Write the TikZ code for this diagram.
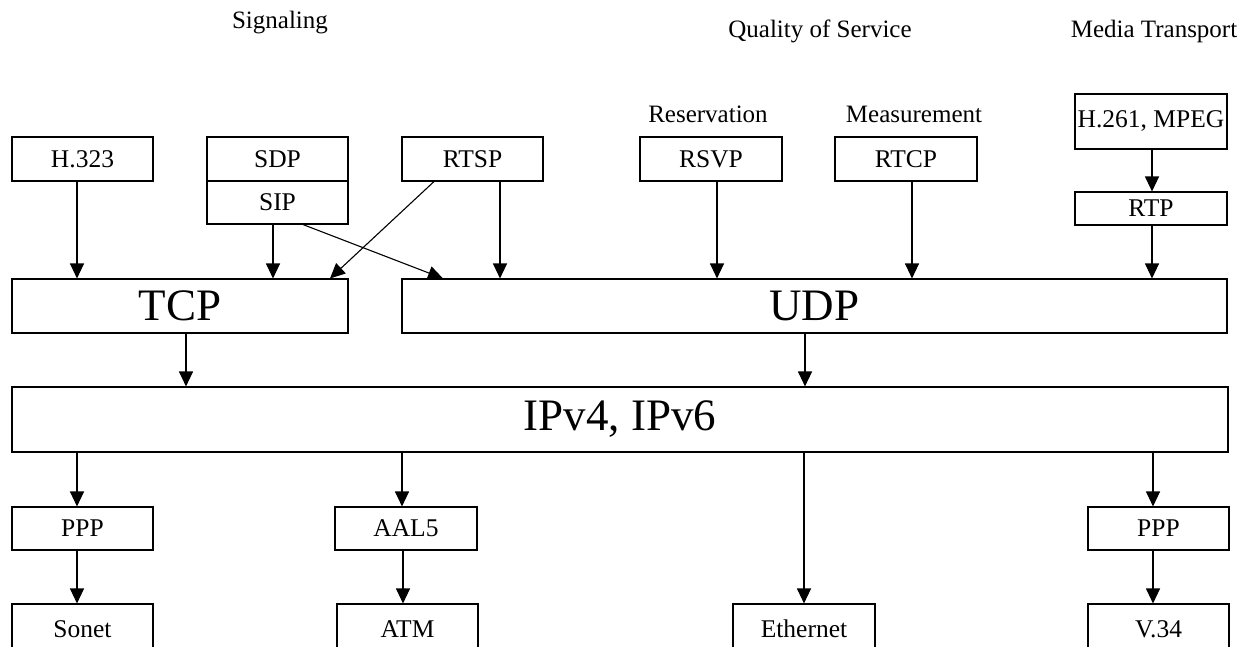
\documentclass[tikz,border=0pt]{standalone}
\usepackage{fontspec}
\setmainfont{Liberation Serif}
\usetikzlibrary{arrows.meta}
\tikzset{
  box/.style={draw, line width=1.1pt, inner sep=0pt, minimum width=141pt, minimum height=44pt,
    font=\fontsize{25.5}{30}\selectfont},
  bigbox/.style={box, font=\fontsize{45}{52}\selectfont},
  hdr/.style={anchor=base, inner sep=0pt, font=\fontsize{25}{30}\selectfont},
  arr/.style={line width=1.1pt, -{Triangle[width=14pt,length=15pt]}},
  ln/.style={line width=1.1pt}
}
\begin{document}
\begin{tikzpicture}[x=1pt,y=-1pt]
\useasboundingbox (0,0) rectangle (1249,646);
\clip (0,0) rectangle (1249,646);
\fill[white] (0,0) rectangle (1249,646);
% headers
\node[hdr] (hsig) at (280,28) {Signaling};
\node[hdr] (hqos) at (820,37) {Quality of Service};
\node[hdr] (hmed) at (1154,37) {Media Transport};
\node[hdr] (hres) at (708,122) {Reservation};
\node[hdr] (hmea) at (914,122) {Measurement};
% top boxes
\node[box] (h323) at (82.5,159) {H.323};
\node[box] (sdp) at (277.5,159) {SDP};
\node[box, minimum height=43pt] (sip) at (277.5,202.5) {SIP};
\node[box] (rtsp) at (472.5,159) {RTSP};
\node[box, minimum width=142pt] (rsvp) at (711,159) {RSVP};
\node[box, minimum width=142pt] (rtcp) at (906,159) {RTCP};
\node[box, minimum width=152pt, minimum height=55pt] (mpeg) at (1151,121.5) {H.261, MPEG};
\node[box, minimum width=152pt, minimum height=33pt] (rtp) at (1151,208.5) {RTP};
% transport
\node[bigbox, minimum width=336pt, minimum height=54pt] (tcp) at (180,306) {TCP};
\node[bigbox, minimum width=825pt, minimum height=54pt] (udp) at (814.5,306) {UDP};
% network
\node[bigbox, minimum width=1216pt, minimum height=65pt] (ip) at (620,419.5) {IPv4, IPv6};
% link
\node[box, minimum height=43pt] (ppp1) at (82.5,528.5) {PPP};
\node[box, minimum width=142pt, minimum height=43pt] (aal5) at (406,528.5) {AAL5};
\node[box, minimum height=43pt] (ppp2) at (1158.5,528.5) {PPP};
% physical
\node[box, minimum height=50pt] (sonet) at (82.5,629) {Sonet};
\node[box, minimum height=50pt] (atm) at (407.5,629) {ATM};
\node[box, minimum width=142pt, minimum height=50pt] (eth) at (804,629) {Ethernet};
\node[box, minimum height=50pt] (v34) at (1158.5,629) {V.34};
% connectors
\draw[arr] ([xshift=-5.5pt]h323.south) -- ([xshift=-5.5pt]h323.south |- tcp.north);
\draw[arr] ([xshift=-4.5pt]sip.south) -- ([xshift=-4.5pt]sip.south |- tcp.north);
\draw[arr] ([xshift=25.5pt]sip.south) -- ([xshift=-371.5pt]udp.north);
\draw[arr] ([xshift=-38.5pt]rtsp.south) -- ([xshift=150pt]tcp.north);
\draw[arr] ([xshift=27.5pt]rtsp.south) -- ([xshift=27.5pt]rtsp.south |- udp.north);
\draw[arr] ([xshift=6pt]rsvp.south) -- ([xshift=6pt]rsvp.south |- udp.north);
\draw[arr] ([xshift=6pt]rtcp.south) -- ([xshift=6pt]rtcp.south |- udp.north);
\draw[arr] ([xshift=1pt]mpeg.south) -- ([xshift=1pt]rtp.north);
\draw[arr] ([xshift=1pt]rtp.south) -- ([xshift=1pt]rtp.south |- udp.north);
\draw[arr] ([xshift=6pt]tcp.south) -- ([xshift=6pt]tcp.south |- ip.north);
\draw[arr] ([xshift=-9.5pt]udp.south) -- ([xshift=-9.5pt]udp.south |- ip.north);
\draw[arr] ([xshift=-5.5pt]ppp1.north |- ip.south) -- ([xshift=-5.5pt]ppp1.north);
\draw[arr] ([xshift=-4pt]aal5.north |- ip.south) -- ([xshift=-4pt]aal5.north);
\draw[arr] (eth.north |- ip.south) -- (eth.north);
\draw[arr] ([xshift=-5.5pt]ppp2.north |- ip.south) -- ([xshift=-5.5pt]ppp2.north);
\draw[arr] ([xshift=-5.5pt]ppp1.south) -- ([xshift=-5.5pt]ppp1.south |- sonet.north);
\draw[arr] ([xshift=-3pt]aal5.south) -- ([xshift=-3pt]aal5.south |- atm.north);
\draw[arr] ([xshift=-5.5pt]ppp2.south) -- ([xshift=-5.5pt]ppp2.south |- v34.north);
\end{tikzpicture}
\end{document}
